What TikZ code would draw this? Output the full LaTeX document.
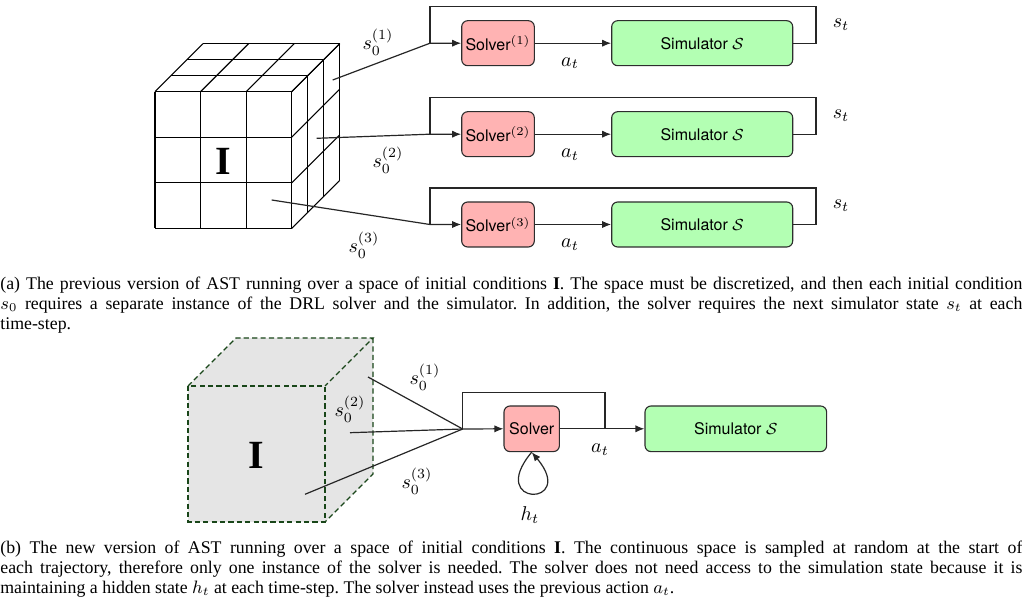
\documentclass[tikz,border=0pt]{standalone}
\usepackage{fontspec}
\setmainfont{Liberation Serif}
\setsansfont{TeX Gyre Heros}
\usetikzlibrary{arrows.meta,calc}
\definecolor{solverfill}{RGB}{255,179,179}
\definecolor{simfill}{RGB}{179,255,179}
\definecolor{boxdraw}{RGB}{45,45,45}
\definecolor{cubegreen}{RGB}{25,70,25}
\definecolor{cubefill}{RGB}{229,229,229}
\tikzset{
  boxbase/.style={draw=boxdraw, line width=0.55pt, rounded corners=3pt, inner sep=0pt,
    font=\sffamily\fontsize{8}{9.6}\selectfont},
  solverbox/.style={boxbase, fill=solverfill, minimum height=22.5pt},
  simbox/.style={boxbase, fill=simfill, minimum width=90.5pt, minimum height=22.5pt},
  conn/.style={draw=black!85, line width=0.6pt},
  arw/.style={conn, -{Latex[length=4.5pt,width=3.6pt]}},
  lbl/.style={inner sep=0pt, font=\fontsize{10}{12}\selectfont},
  grid/.style={draw=black, line width=0.55pt},
  cubeedge/.style={draw=cubegreen, line width=0.7pt, dash pattern=on 2.6pt off 1.6pt},
  capt/.style={inner sep=0pt, text width=511pt, align=justify,
    font=\fontsize{8.9}{10}\selectfont\frenchspacing},
}
\begin{document}
\begin{tikzpicture}[x=0.5pt,y=-0.5pt]
\useasboundingbox (0,0) rectangle (1022,614);

% ---------------- (a) discretized cube ----------------
\foreach \k in {0,1,2,3} {
  \draw[grid] ({155+45.57*\k},91.7) -- ({155+45.57*\k},228.4);
  \draw[grid] (155,{91.7+45.57*\k}) -- (291.7,{91.7+45.57*\k});
  \draw[grid] ({155+16*\k},{91.7-16*\k}) -- ({291.7+16*\k},{91.7-16*\k});
  \draw[grid] ({155+45.57*\k},91.7) -- ({203+45.57*\k},43.7);
  \draw[grid] ({291.7+16*\k},{91.7-16*\k}) -- ({291.7+16*\k},{228.4-16*\k});
  \draw[grid] (291.7,{91.7+45.57*\k}) -- (339.7,{43.7+45.57*\k});
}
\node[inner sep=0pt, font=\fontsize{20}{24}\selectfont] (Ia) at (223.3,161) {$\mathbf{I}$};

\coordinate (c1) at (332.7,80);
\coordinate (c2) at (316.7,138.3);
\coordinate (c3) at (271.7,200);

\foreach \i/\y in {1/43.2,2/134.2,3/224.5} {
  \node[solverbox, minimum width=36.3pt] (sv\i) at (498,\y) {Solver$^{(\i)}$};
  \node[simbox] (sm\i) at (702.2,\y) {Simulator $\mathcal{S}$};
  \coordinate (j\i) at (430,\y);
  \draw[conn] (sm\i.east) -| (816,{\y-36.5}) -| (j\i);
  \draw[arw] (c\i) -- (j\i) -- (sv\i.west);
  \draw[arw] (sv\i.east) -- (sm\i.west);
  \node[lbl] (at\i) at (570,{\y+20}) {$a_t$};
  \node[lbl] (st\i) at (841,{\y-19}) {$s_t$};
}
\node[lbl] (s01) at (378,42) {$s_0^{(1)}$};
\node[lbl] (s02) at (388,160) {$s_0^{(2)}$};
\node[lbl] (s03) at (364,245) {$s_0^{(3)}$};

% ---------------- caption (a) ----------------
\node[capt, anchor=base west] (capa) at (0,290) {(a) The previous version of AST running over a space of initial conditions \textbf{I}. The space must be discretized, and then each initial condition\linebreak
$s_0$ requires a separate instance of the DRL solver and the simulator. In addition, the solver requires the next simulator state $s_t$ at each\linebreak
time-step.};

% ---------------- (b) continuous cube ----------------
\fill[cubefill] (188,386) -- (236,338) -- (373,338) -- (373,474) -- (325,522) -- (188,522) -- cycle;
\draw[cubeedge] (188,386) rectangle (325,522);
\draw[cubeedge] (188,386) -- (236,338) -- (373,338) -- (325,386);
\draw[cubeedge] (373,338) -- (373,474) -- (325,522);
\node[inner sep=0pt, font=\fontsize{20}{24}\selectfont] (Ib) at (256.5,455) {$\mathbf{I}$};

\coordinate (d1) at (368,377);
\coordinate (d2) at (350,432.7);
\coordinate (d3) at (305,494.3);
\coordinate (m) at (462.7,429);
\node[solverbox, minimum width=27.7pt, minimum height=22.8pt] (sv) at (531.7,428.8) {Solver};
\node[simbox, minimum width=90.8pt, minimum height=22.8pt] (sm) at (735.8,428.8) {Simulator $\mathcal{S}$};
\coordinate (f) at (605,428.8);
\coordinate (ftop) at (462.7,392.7);

\draw[conn] (d1) -- (m);
\draw[conn] (d2) -- (m);
\draw[conn] (d3) -- (m);
\draw[arw] (m) -- (sv.west);
\draw[arw] (sv.east) -- (sm.west);
\draw[conn] (f) |- (ftop) -- (m);
\draw[arw] (sv.south) to[out=-130,in=-50,min distance=36pt] (sv.south);

\node[lbl] (b01) at (425,377) {$s_0^{(1)}$};
\node[lbl] (b02) at (350,409) {$s_0^{(2)}$};
\node[lbl] (b03) at (417,481) {$s_0^{(3)}$};
\node[lbl] (bat) at (600,450) {$a_t$};
\node[lbl] (bht) at (530,515) {$h_t$};

% ---------------- caption (b) ----------------
\node[capt, anchor=base west] (capb) at (0,553.5) {(b) The new version of AST running over a space of initial conditions \textbf{I}. The continuous space is sampled at random at the start of\linebreak
each trajectory, therefore only one instance of the solver is needed. The solver does not need access to the simulation state because it is\linebreak
maintaining a hidden state $h_t$ at each time-step. The solver instead uses the previous action $a_t$.};
\end{tikzpicture}
\end{document}
